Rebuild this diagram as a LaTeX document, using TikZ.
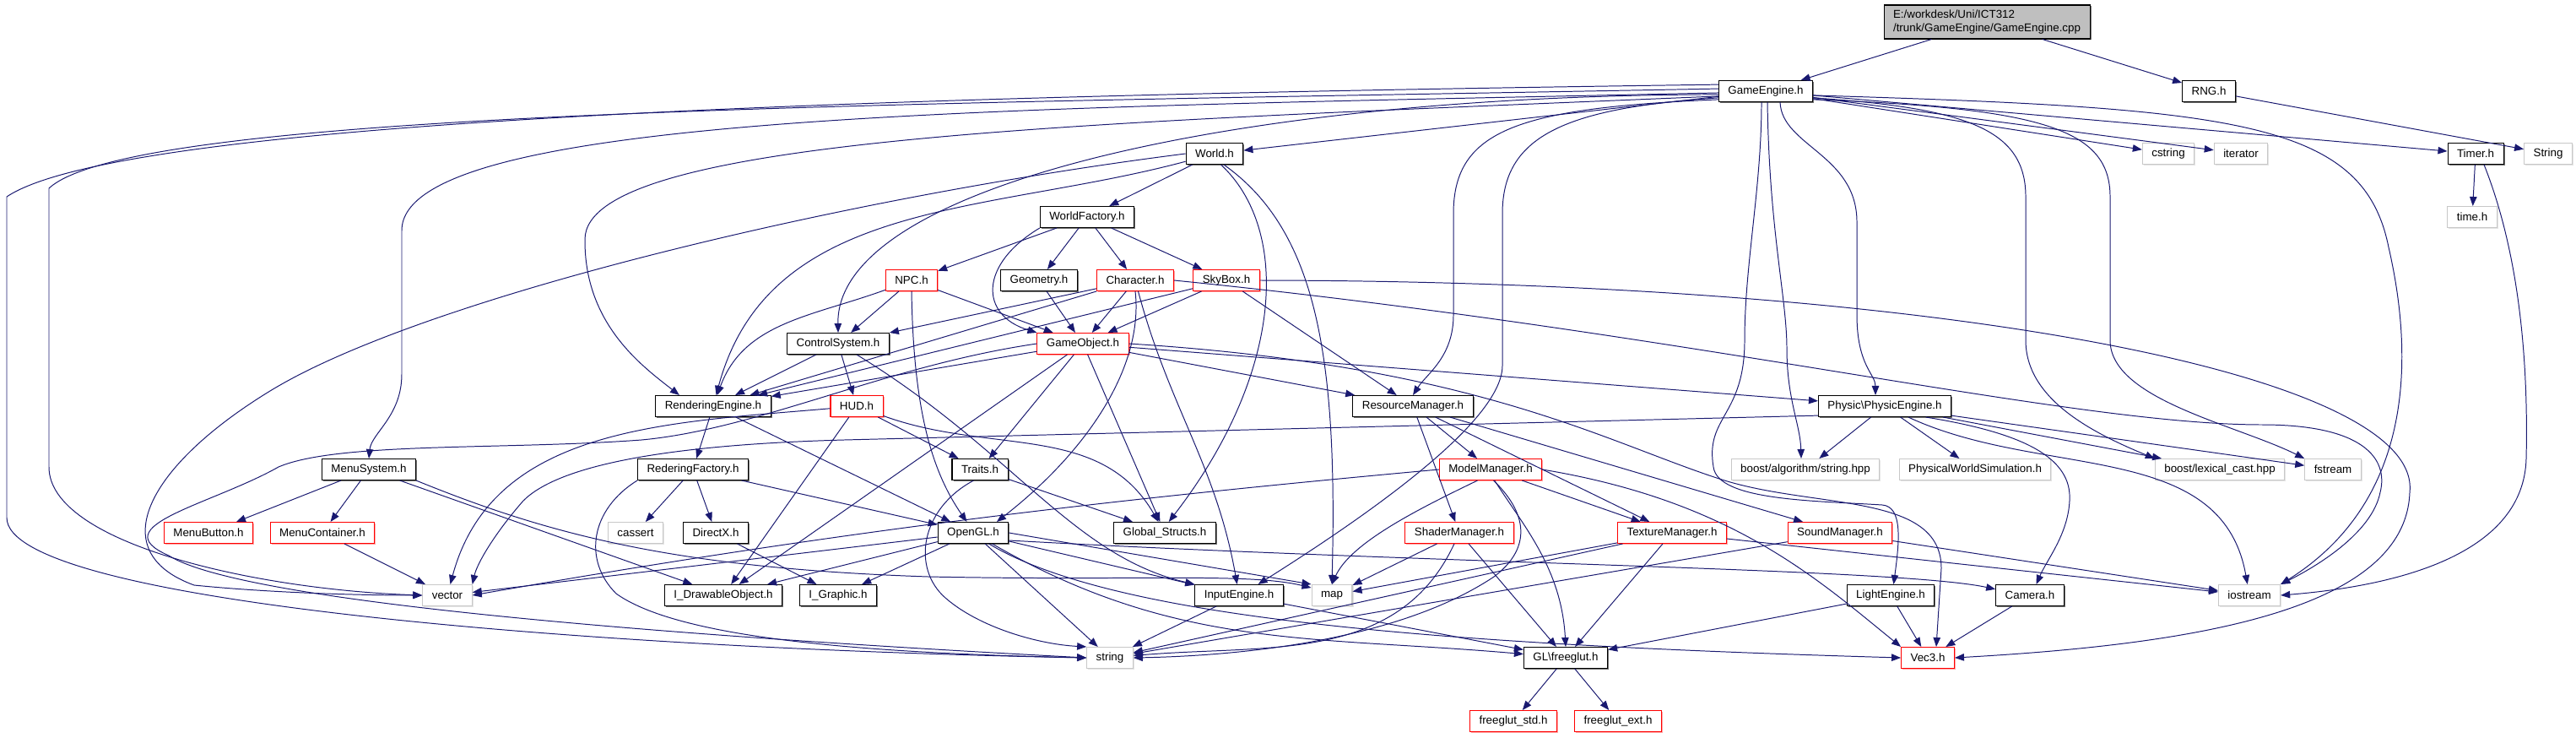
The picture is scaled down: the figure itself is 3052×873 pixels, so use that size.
\documentclass[tikz,border=0pt]{standalone}
\usepackage{fontspec}
\setmainfont{Liberation Sans}
\usetikzlibrary{arrows.meta, shadows}

\definecolor{edgeblue}{HTML}{191970}
\definecolor{rootgray}{HTML}{BFBFBF}
\definecolor{sysgray}{HTML}{C8C8C8}
\newcommand{\gfont}{\fontsize{3.8}{4.3}\selectfont}

\begin{document}
\begin{tikzpicture}[
  x=0.1mm, y=0.1mm,
  >={Triangle[length=1.1mm, width=0.85mm]},
  filebox/.style={draw, fill=white, line width=0.3pt, minimum height=2.5mm,
    inner xsep=1.1mm, inner ysep=0pt, font=\gfont},
  hdr/.style={filebox, draw=black,
    drop shadow={shadow xshift=0.15mm, shadow yshift=-0.15mm, fill=black!55, opacity=1}},
  redfile/.style={filebox, draw=red,
    drop shadow={shadow xshift=0.15mm, shadow yshift=-0.15mm, fill=red!35, opacity=1}},
  sysfile/.style={filebox, draw=sysgray,
    drop shadow={shadow xshift=0.15mm, shadow yshift=-0.15mm, fill=sysgray!50, opacity=1}},
  rootfile/.style={hdr, fill=rootgray, align=left, minimum width=23.9mm, minimum height=4mm},
  every edge/.style={draw=edgeblue, line width=0.28pt},
  link/.style={draw=edgeblue, line width=0.28pt, ->}
]
  \useasboundingbox (0,0) rectangle (3052,873);

  \node[rootfile] (root) at (2354,847) {E:/workdesk/Uni/ICT312\\/trunk/GameEngine/GameEngine.cpp};
  \node[hdr] (GE) at (2092,765) {GameEngine.h};
  \node[hdr] (RNG) at (2617,765) {RNG.h};
  \node[hdr] (World) at (1439,691) {World.h};
  \node[sysfile] (cstring) at (2569,691) {cstring};
  \node[sysfile] (iterator) at (2655,691) {iterator};
  \node[hdr] (Timer) at (2933,691) {Timer.h};
  \node[sysfile] (String) at (3019,691) {String};
  \node[hdr] (WFact) at (1288,616) {WorldFactory.h};
  \node[sysfile] (time) at (2929,616) {time.h};
  \node[redfile] (NPC) at (1080,541) {NPC.h};
  \node[hdr] (Geometry) at (1231,541) {Geometry.h};
  \node[redfile] (Character) at (1345,541) {Character.h};
  \node[redfile] (SkyBox) at (1453,541) {SkyBox.h};
  \node[hdr] (CtrlSys) at (993,466) {ControlSystem.h};
  \node[redfile] (GObj) at (1283,466) {GameObject.h};
  \node[hdr] (REng) at (845,392) {RenderingEngine.h};
  \node[redfile] (HUD) at (1015,392) {HUD.h};
  \node[hdr] (ResMgr) at (1674,392) {ResourceManager.h};
  \node[hdr] (PhysEng) at (2233,392) {Physic\textbackslash PhysicEngine.h};
  \node[hdr] (MenuSys) at (437,317) {MenuSystem.h};
  \node[hdr] (RFact) at (821,317) {RederingFactory.h};
  \node[hdr] (Traits) at (1161,317) {Traits.h};
  \node[redfile] (ModelMgr) at (1766,317) {ModelManager.h};
  \node[sysfile] (boostalg) at (2139,317) {boost/algorithm/string.hpp};
  \node[sysfile] (PWSim) at (2340,317) {PhysicalWorldSimulation.h};
  \node[sysfile] (lexcast) at (2630,317) {boost/lexical\_cast.hpp};
  \node[sysfile] (fstream) at (2764,317) {fstream};
  \node[redfile] (MenuBtn) at (247,242) {MenuButton.h};
  \node[redfile] (MenuCont) at (382,242) {MenuContainer.h};
  \node[sysfile] (cassert) at (753,242) {cassert};
  \node[hdr] (DirectX) at (848,242) {DirectX.h};
  \node[hdr] (OpenGL) at (1153,242) {OpenGL.h};
  \node[hdr] (GStructs) at (1380,242) {Global\_Structs.h};
  \node[redfile] (ShaderMgr) at (1729,242) {ShaderManager.h};
  \node[redfile] (TexMgr) at (1981,242) {TextureManager.h};
  \node[redfile] (SoundMgr) at (2180,242) {SoundManager.h};
  \node[sysfile] (vector) at (530,168) {vector};
  \node[hdr] (IDraw) at (857,168) {I\_DrawableObject.h};
  \node[hdr] (IGraphic) at (993,168) {I\_Graphic.h};
  \node[hdr] (InputEng) at (1468,168) {InputEngine.h};
  \node[sysfile] (map) at (1578,168) {map};
  \node[hdr] (LightEng) at (2240,168) {LightEngine.h};
  \node[hdr] (Camera) at (2405,168) {Camera.h};
  \node[sysfile] (iostream) at (2665,168) {iostream};
  \node[sysfile] (string) at (1315,94) {string};
  \node[hdr] (GLut) at (1855,94) {GL\textbackslash freeglut.h};
  \node[redfile] (Vec3) at (2284,94) {Vec3.h};
  \node[redfile] (fgstd) at (1793,19) {freeglut\_std.h};
  \node[redfile] (fgext) at (1917,19) {freeglut\_ext.h};

  \path[->]
    (root) edge (GE)
    (root) edge (RNG)
    (RNG) edge (String)
    (GE) edge (World)
    (GE) edge (cstring)
    (GE) edge (iterator)
    (GE) edge (Timer)
    (Timer) edge (time)
    (World) edge (WFact)
    (World) edge[out=195, in=75] (REng)
    (WFact) edge (NPC)
    (WFact) edge (Geometry)
    (WFact) edge (Character)
    (WFact) edge (SkyBox)
    (NPC) edge (GObj)
    (NPC) edge (CtrlSys)
    (NPC) edge[out=200, in=70] (REng)
    (Geometry) edge (GObj)
    (Character) edge (GObj)
    (Character) edge (CtrlSys)
    (Character.south west) edge (REng)
    (Character) edge[out=-75, in=100] (InputEng)
    (SkyBox) edge (GObj)
    (SkyBox) edge (REng)
    (SkyBox) edge (ResMgr)
    (CtrlSys) edge (REng)
    (CtrlSys) edge (HUD)
    (GObj) edge (REng)
    (GObj) edge (Traits)
    (GObj) edge (GStructs)
    (GObj) edge (IDraw)
    (GObj) edge (ResMgr)
    (GObj) edge (PhysEng)
    (HUD) edge[out=185, in=75] (vector)
    (HUD) edge (Traits)
    (HUD) edge[out=-20, in=120] (GStructs)
    (HUD) edge (IDraw)
    (REng) edge (RFact)
    (REng) edge (OpenGL)
    (RFact) edge (cassert)
    (RFact) edge (DirectX)
    (RFact) edge (OpenGL)
    (DirectX) edge (IGraphic)
    (MenuSys) edge (MenuBtn)
    (MenuSys) edge (MenuCont)
    (MenuSys) edge (IDraw)
    (MenuCont) edge (vector)
    (Traits) edge (GStructs)
    (OpenGL) edge (vector)
    (OpenGL) edge (IGraphic)
    (OpenGL) edge (IDraw)
    (OpenGL) edge (string)
    (OpenGL) edge (InputEng)
    (OpenGL.east) edge (map.north west)
    (OpenGL) edge[out=-30, in=175] (GLut)
    (InputEng) edge (string)
    (InputEng) edge (GLut)
    (ResMgr) edge (ModelMgr)
    (ResMgr) edge (ShaderMgr)
    (ResMgr) edge (TexMgr)
    (ResMgr) edge (SoundMgr)
    (ModelMgr) edge (TexMgr)
    (ShaderMgr) edge (map)
    (ShaderMgr) edge[out=-115, in=5] (string)
    (ShaderMgr) edge (GLut)
    (TexMgr) edge (map)
    (TexMgr) edge (string)
    (TexMgr) edge (GLut)
    (TexMgr) edge (iostream)
    (SoundMgr) edge (string)
    (SoundMgr) edge (iostream)
    (PhysEng) edge (boostalg)
    (PhysEng) edge (PWSim)
    (PhysEng) edge (lexcast)
    (PhysEng) edge (fstream)
    (PhysEng) edge[out=-25, in=100] (iostream)
    (LightEng) edge (GLut)
    (LightEng) edge (Vec3)
    (Camera) edge (Vec3)
    (GLut) edge (fgstd)
    (GLut) edge (fgext);

  \draw[link] (GE.172) .. controls (1100,760) and (150,735) .. (8,640) -- (8,260)
    .. controls (8,160) and (700,105) .. (string.west);
  \draw[link] (GE.177) .. controls (1100,750) and (160,745) .. (58,650) -- (58,320)
    .. controls (58,230) and (300,175) .. (vector.west);
  \draw[link] (GE.182) .. controls (1200,745) and (476,740) .. (476,600) -- (476,430)
    .. controls (476,380) and (440,360) .. (MenuSys.north);
  \draw[link] (GE.186) .. controls (1300,728) and (695,712) .. (693,590)
    .. controls (692,490) and (760,440) .. (REng.162);
  \draw[link] (GE.184) .. controls (1450,760) and (990,650) .. (CtrlSys.north);
  \draw[link] (GE.190) .. controls (1800,745) and (1722,720) .. (1722,620) -- (1722,500)
    .. controls (1722,450) and (1690,430) .. (ResMgr.north);
  \draw[link] (GE.188) .. controls (1850,745) and (1780,710) .. (1780,620) -- (1780,440)
    .. controls (1780,370) and (1600,250) .. (InputEng.30);
  \draw[link] ([xshift=-0.5mm]GE.south) .. controls (2087,650) and (2067,560) .. (2067,470)
    .. controls (2067,380) and (2020,380) .. (2030,320)
    .. controls (2035,280) and (2150,280) .. (2230,275)
    .. controls (2255,273) and (2250,230) .. (LightEng.75);
  \draw[link] ([xshift=0.2mm]GE.south) .. controls (2096,600) and (2117,520) .. (2117,460)
    .. controls (2117,400) and (2133,370) .. ([xshift=-0.5mm]boostalg.north);
  \draw[link] ([xshift=1.7mm]GE.south) .. controls (2111,700) and (2200,690) .. (2200,610) -- (2200,500)
    .. controls (2200,440) and (2222,430) .. ([xshift=-1.1mm]PhysEng.north);
  \draw[link] (GE.-8) .. controls (2330,745) and (2400,720) .. (2400,640) -- (2400,470)
    .. controls (2400,400) and (2480,360) .. (lexcast.north west);
  \draw[link] (GE.-10) .. controls (2420,745) and (2500,720) .. (2500,640) -- (2500,470)
    .. controls (2500,400) and (2650,370) .. (fstream.north west);
  \draw[link] (GE.-5) .. controls (2650,745) and (2800,730) .. (2830,580)
    .. controls (2860,450) and (2860,280) .. (iostream.north east);
  \draw[link] ([xshift=1mm]Timer.south) .. controls (2990,560) and (2995,420) .. (2993,330)
    .. controls (2990,220) and (2850,180) .. (iostream.east);

  \draw[link] (World.west) .. controls (1000,640) and (500,520) .. (320,410)
    .. controls (176,322) and (120,220) .. (230,180)
    .. controls (330,170) and (440,168) .. (vector.west);
  \draw[link] (World.-60) .. controls (1530,600) and (1520,430) .. (GStructs.70);
  \draw[link] (World.-50) .. controls (1560,600) and (1585,450) .. (map.north);
  \draw[link] (WFact.south west) .. controls (1160,560) and (1160,500) .. (GObj.north west);
  \draw[link] (NPC.south) .. controls (1082,400) and (1100,320) .. (OpenGL.120);
  \draw[link] (Character.south) .. controls (1355,440) and (1290,340) .. (OpenGL.25);
  \draw[link] (Character.east) .. controls (2000,480) and (2450,370) .. (2680,370)
    .. controls (2800,370) and (2830,330) .. (2820,290)
    .. controls (2810,240) and (2740,200) .. (iostream.north east);
  \draw[link] (SkyBox.east) .. controls (2300,540) and (2870,430) .. (2855,290)
    .. controls (2850,150) and (2600,110) .. (Vec3.east);
  \draw[link] (CtrlSys.south) ++(22,0) .. controls (1200,340) and (1270,215) .. (InputEng.north west);
  \draw[link] (GObj.west) .. controls (1050,440) and (900,365) .. (760,352)
    .. controls (600,340) and (400,350) .. (330,320)
    .. controls (250,275) and (120,250) .. (200,215)
    .. controls (280,165) and (700,125) .. (string.west);
  \draw[link] (GObj.east) .. controls (1750,440) and (1900,350) .. (2040,305)
    .. controls (2150,270) and (2300,290) .. (2300,200) -- ([xshift=1mm]Vec3.north);
  \draw[link] (PhysEng.188) -- (1000,352) .. controls (780,346) and (660,320) .. (620,280)
    .. controls (585,240) and (565,205) .. (vector.north east);
  \draw[link] (PhysEng.-15) .. controls (2400,360) and (2455,330) .. (2452,280)
    .. controls (2450,240) and (2425,210) .. (Camera.60);
  \draw[link] (RFact.south west) .. controls (700,270) and (690,210) .. (730,170)
    .. controls (800,120) and (1000,100) .. (string.west);
  \draw[link] (Traits.-120) .. controls (1090,270) and (1080,200) .. (1120,165)
    .. controls (1160,130) and (1230,110) .. (string.north west);
  \draw[link] (MenuSys.south east) .. controls (650,240) and (800,200) .. (1100,190)
    .. controls (1350,185) and (1480,195) .. (map.160);
  \draw[link] (OpenGL.-35) .. controls (1320,140) and (1700,110) .. (Vec3.west);
  \draw[link] (OpenGL.-12) .. controls (1700,205) and (2250,200) .. (Camera.170);
  \draw[link] (ModelMgr.west) .. controls (1300,280) and (1000,245) .. (vector.east);
  \draw[link] (ModelMgr.-140) .. controls (1680,270) and (1600,230) .. (map.north);
  \draw[link] (ModelMgr.-75) .. controls (1815,260) and (1810,220) .. (1770,190)
    .. controls (1650,110) and (1450,96) .. (string.east);
  \draw[link] (ModelMgr.-70) .. controls (1805,250) and (1850,200) .. (GLut.north);
  \draw[link] (ModelMgr.east) .. controls (2050,280) and (2150,190) .. (Vec3.north west);
\end{tikzpicture}
\end{document}
